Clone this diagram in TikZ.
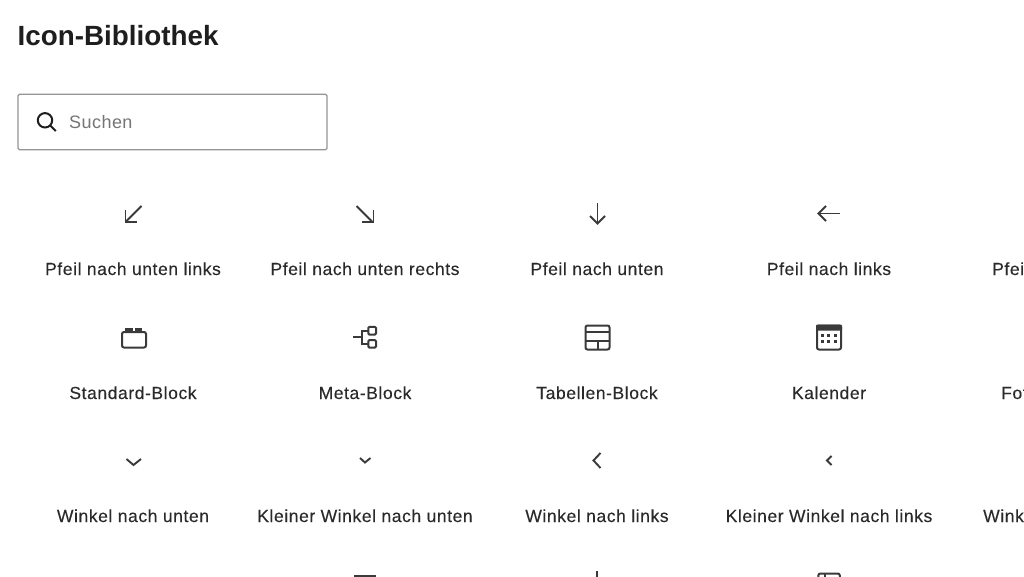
\documentclass[tikz,border=0pt]{standalone}
\usepackage{fontspec}
\setmainfont{Liberation Sans}[LetterSpace=3.3,FakeBold=0.12]
\newfontfamily\titlefont{Liberation Sans}[LetterSpace=0]
\newfontfamily\hintfont{Liberation Sans}[LetterSpace=2.5]
\definecolor{ink}{HTML}{1E1E1E}
\definecolor{labelc}{HTML}{2A2A2A}
\definecolor{iconc}{HTML}{3A3A3A}
\definecolor{hint}{HTML}{757575}
\definecolor{boxc}{HTML}{949494}
\tikzset{
  lab/.style={text=labelc,font=\fontsize{17.5}{19}\selectfont,inner sep=0pt,anchor=base},
  cutlab/.style={text=labelc,font=\fontsize{17.5}{19}\selectfont,inner sep=0pt,anchor=base west},
  ico/.style={draw=iconc,line width=1.9pt,line cap=butt,line join=miter},
  icor/.style={draw=iconc,line width=2pt,rounded corners=2pt},
  icos/.style={draw=iconc,line width=2pt,rounded corners=1.2pt},
}
\begin{document}
\begin{tikzpicture}[x=1pt,y=-1pt]
\useasboundingbox (0,0) rectangle (1024,577);
\fill[white] (0,0) rectangle (1024,577);
\clip (0,0) rectangle (1024,577);
% header
\node[anchor=base west,inner sep=0pt,text=ink,font=\titlefont\bfseries\fontsize{27.8}{30}\selectfont] (title) at (17.5,45.5) {Icon-Bibliothek};
\node[draw=boxc,line width=1.2pt,rounded corners=1.5pt,minimum width=309pt,minimum height=55.5pt,inner sep=0pt] (search) at (172.5,122) {};
\draw[draw=ink,line width=2pt] (45,120.3) circle (7.2pt);
\draw[draw=ink,line width=2pt] (50.2,125.5) -- (55.8,131);
\node[anchor=base west,inner sep=0pt,text=hint,font=\hintfont\fontsize{18}{20}\selectfont] (hinttext) at (69,129) {Suchen};
% row 1
\node[lab] (a1) at (133,275) {Pfeil nach unten links};
\node[lab] (a2) at (365,275) {Pfeil nach unten rechts};
\node[lab] (a3) at (597,275) {Pfeil nach unten};
\node[lab] (a4) at (829,275) {Pfeil nach links};
\node[cutlab] (a5) at (992,275) {Pfei};
\draw[ico] (141.5,206) -- (126,221.5);
\draw[ico] (125.5,210.5) -- (125.5,222) -- (137,222);
\draw[ico] (356.5,206) -- (372,221.5);
\draw[ico] (373.5,210.5) -- (373.5,222) -- (362,222);
\draw[ico] (597.5,203) -- (597.5,224);
\draw[ico] (590,216) -- (597.5,223.5) -- (605,216);
\draw[ico] (818,213.5) -- (840,213.5);
\draw[ico] (826,206) -- (818.5,213.5) -- (826,221);
% row 2
\node[lab] (b1) at (133,399) {Standard-Block};
\node[lab] (b2) at (365,399) {Meta-Block};
\node[lab] (b3) at (597,399) {Tabellen-Block};
\node[lab] (b4) at (829,399) {Kalender};
\node[cutlab] (b5) at (1001,399) {Fot};
% standard block
\draw[icor] (122,332) rectangle (146,347.5);
\fill[iconc] (125,328.3) rectangle (132.5,332);
\fill[iconc] (135,328.3) rectangle (142.3,332);
% meta block
\draw[icos] (368.3,326.8) rectangle (376,334.6);
\draw[icos] (368.3,340) rectangle (376,347.6);
\draw[ico] (353.3,336.8) -- (361.7,336.8);
\draw[ico] (368.3,330.8) -- (361.7,330.8) -- (361.7,343.8) -- (368.3,343.8);
% table block
\draw[icor] (585.5,325.5) rectangle (609.5,349.5);
\draw[ico] (585.5,331.8) -- (609.5,331.8);
\draw[ico] (585.5,340.7) -- (609.5,340.7);
\draw[ico] (597.7,340.7) -- (597.7,349.5);
% calendar
\draw[icor] (817,325.5) rectangle (841,349.5);
\fill[iconc,rounded corners=1pt] (816,324.7) rectangle (842,330.5);
\foreach \x in {821.3,827.3,833.5}{\foreach \y in {333.5,340.2}{\fill[iconc] (\x,\y) rectangle +(3,3);}}
% row 3
\node[lab] (c1) at (133,522) {Winkel nach unten};
\node[lab] (c2) at (365,522) {Kleiner Winkel nach unten};
\node[lab] (c3) at (597,522) {Winkel nach links};
\node[lab] (c4) at (829,522) {Kleiner Winkel nach links};
\node[cutlab] (c5) at (983,522) {Wink};
\draw[ico] (126.5,459) -- (133.5,465) -- (141,459);
\draw[ico] (360,458) -- (365,462.5) -- (370.5,458);
\draw[ico] (600.5,453) -- (593.5,460.5) -- (600.5,468);
\draw[ico] (831.5,456) -- (827,460.5) -- (831.5,465);
% row 4 tops
\fill[iconc] (354,575) rectangle (375.7,577.5);
\fill[iconc] (595.8,571) rectangle (597.9,578);
\draw[icor] (818.3,573.5) rectangle (839.8,590);
\draw[ico] (825,574) -- (825,590);
\end{tikzpicture}
\end{document}
